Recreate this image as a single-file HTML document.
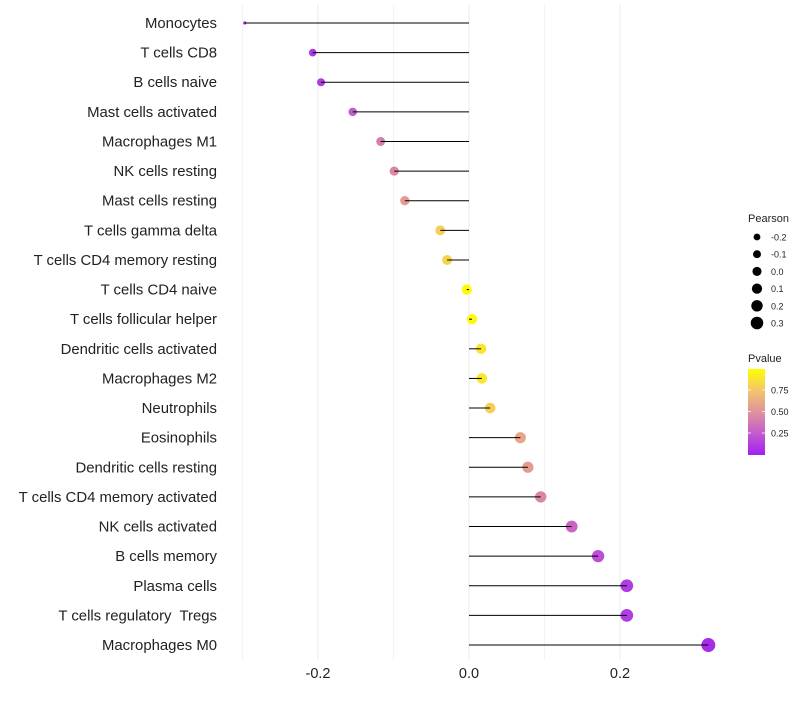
<!DOCTYPE html>
<html><head><meta charset="utf-8"><style>
body{margin:0;background:#fff;font-family:"Liberation Sans",sans-serif}
text{white-space:pre}
</style></head><body>
<svg id="c" width="800" height="700" xmlns="http://www.w3.org/2000/svg" font-family="Liberation Sans, sans-serif"></svg>
<script>
const categories=["Monocytes","T cells CD8","B cells naive","Mast cells activated","Macrophages M1","NK cells resting","Mast cells resting","T cells gamma delta","T cells CD4 memory resting","T cells CD4 naive","T cells follicular helper","Dendritic cells activated","Macrophages M2","Neutrophils","Eosinophils","Dendritic cells resting","T cells CD4 memory activated","NK cells activated","B cells memory","Plasma cells","T cells regulatory  Tregs","Macrophages M0"];
const pearson=[-0.297,-0.207,-0.196,-0.154,-0.117,-0.099,-0.085,-0.038,-0.029,-0.003,0.004,0.016,0.017,0.028,0.068,0.078,0.095,0.136,0.171,0.209,0.209,0.317];
const pvalue=[0.01,0.1,0.12,0.25,0.4,0.45,0.55,0.8,0.82,0.98,0.98,0.9,0.9,0.8,0.6,0.55,0.45,0.3,0.2,0.12,0.12,0.05];
const xTicks=[-0.2,0.0,0.2];
const xTickLabels=["-0.2","0.0","0.2"];
const sizeLegend=[-0.2,-0.1,0.0,0.1,0.2,0.3];
const pTicks=[0.25,0.5,0.75];
const NS="http://www.w3.org/2000/svg";
const svg=document.getElementById('c');
function el(t,a,p){const e=document.createElementNS(NS,t);for(const k in a)e.setAttribute(k,a[k]);(p||svg).appendChild(e);return e;}
const x=v=>469+v*755;
const y=i=>23+i*(645-23)/(categories.length-1);
const r=v=>v<-0.2?Math.max(1.5,1.5+(v+0.3)/0.1*2.5):4+(v+0.2)/0.52*3;
const stops=[[0,[160,32,240]],[0.25,[196,90,208]],[0.5,[224,146,156]],[0.75,[243,196,108]],[1,[255,255,0]]];
function col(p){for(let i=1;i<stops.length;i++){if(p<=stops[i][0]){const a=stops[i-1],b=stops[i];const t=(p-a[0])/(b[0]-a[0]);const c=a[1].map((u,k)=>Math.round(u+(b[1][k]-u)*t));return `rgb(${c})`;}}return 'rgb(255,255,0)';}
[-0.3,-0.2,-0.1,0,0.1,0.2].forEach((v,i)=>{const g=el('line',{x1:x(v),x2:x(v),y1:5,y2:660,stroke:'#ebebeb','stroke-width':i%2===1?1:0.6});

});
xTicks.forEach((v,i)=>{const t=el('text',{x:x(v),y:678,'text-anchor':'middle','font-size':14.5,fill:'#222'});t.textContent=xTickLabels[i];

});
categories.forEach((c,i)=>{
const t=el('text',{x:217,y:y(i)+5,'text-anchor':'end','font-size':14.9,fill:'#222'});t.textContent=c;


const d=el('circle',{cx:x(pearson[i]),cy:y(i),r:r(pearson[i]),fill:col(pvalue[i])});


const l=el('line',{x1:x(0),x2:x(pearson[i]),y1:y(i),y2:y(i),stroke:'#000','stroke-width':1});


});
const st=el('text',{x:748,y:222,'font-size':11,fill:'#222'});st.textContent='Pearson';


sizeLegend.forEach((v,i)=>{const yy=237+i*17.2;
const c=el('circle',{cx:757,cy:yy,r:r(v)-0.6,fill:'#000'});


const t=el('text',{x:771,y:yy+3.5,'font-size':9,fill:'#222'});t.textContent=v.toFixed(1);

});
const pt=el('text',{x:748,y:362,'font-size':11,fill:'#222'});pt.textContent='Pvalue';


const defs=el('defs',{});const lg=el('linearGradient',{id:'g',x1:0,y1:1,x2:0,y2:0},defs);
stops.forEach(s=>el('stop',{offset:s[0],'stop-color':`rgb(${s[1]})`},lg));
const bar=el('rect',{x:748,y:369,width:17,height:86,fill:'url(#g)'});


pTicks.forEach(p=>{const yy=454.5-p*86;
el('line',{x1:748,x2:751,y1:yy,y2:yy,stroke:'#fff','stroke-width':0.8});el('line',{x1:762,x2:765,y1:yy,y2:yy,stroke:'#fff','stroke-width':0.8});
const t=el('text',{x:771,y:yy+3.5,'font-size':9,fill:'#222'});t.textContent=p.toFixed(2);

});
</script>
</body></html>
